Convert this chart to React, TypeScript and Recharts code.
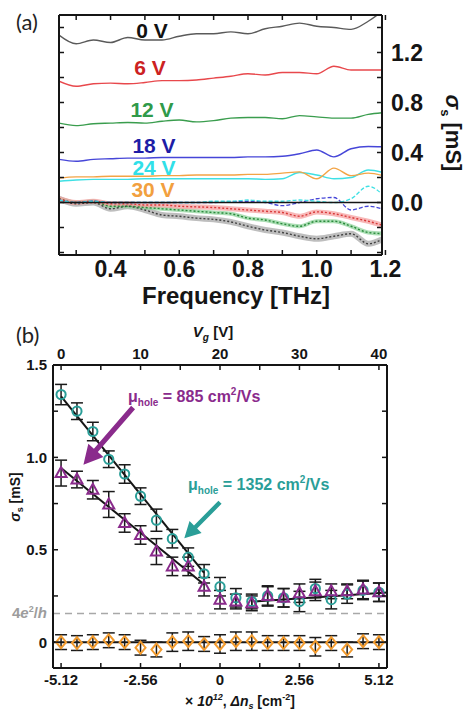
import React from 'react';
import {
  ComposedChart,
  Line,
  Scatter,
  XAxis,
  YAxis,
  ErrorBar,
  ReferenceLine,
} from 'recharts';

const FONT = '"Liberation Sans", Arial, sans-serif';

// ---------- panel (a): sheet conductivity vs frequency ----------
const freq = [0.25, 0.3, 0.35, 0.4, 0.45, 0.5, 0.55, 0.6, 0.65, 0.7, 0.75, 0.8, 0.85, 0.9, 0.95, 1.0, 1.05, 1.1, 1.15, 1.2];
// real part (solid, offset per gate voltage)
const re0V = [1.34, 1.27, 1.3, 1.28, 1.32, 1.3, 1.3, 1.33, 1.35, 1.35, 1.365, 1.35, 1.39, 1.41, 1.435, 1.41, 1.4, 1.385, 1.45, 1.55];
const re6V = [0.97, 0.93, 0.95, 0.955, 0.95, 0.96, 0.975, 0.975, 0.98, 0.995, 1.01, 1.03, 1.02, 1.04, 1.04, 1.03, 1.09, 1.06, 1.06, 1.06];
const re12V = [0.635, 0.615, 0.63, 0.635, 0.64, 0.635, 0.65, 0.66, 0.645, 0.655, 0.675, 0.68, 0.68, 0.67, 0.695, 0.685, 0.675, 0.675, 0.705, 0.72];
const re18V = [0.345, 0.33, 0.345, 0.35, 0.355, 0.355, 0.36, 0.36, 0.36, 0.36, 0.36, 0.365, 0.365, 0.37, 0.39, 0.42, 0.365, 0.43, 0.448, 0.445];
const re24V = [0.17, 0.18, 0.185, 0.185, 0.185, 0.19, 0.19, 0.19, 0.19, 0.19, 0.19, 0.19, 0.185, 0.19, 0.24, 0.22, 0.19, 0.2, 0.26, 0.235];
const re30V = [0.195, 0.205, 0.205, 0.21, 0.21, 0.21, 0.215, 0.215, 0.22, 0.22, 0.22, 0.225, 0.225, 0.235, 0.245, 0.19, 0.275, 0.215, 0.235, 0.21];
// imaginary part (dotted / dashed)
const im0V = [0.03, -0.01, 0.0, -0.05, -0.03, -0.06, -0.1, -0.11, -0.125, -0.135, -0.155, -0.19, -0.22, -0.24, -0.27, -0.29, -0.27, -0.25, -0.33, -0.28];
const im6V = [0.03, 0.0, 0.01, -0.01, -0.01, -0.02, -0.02, -0.03, -0.035, -0.04, -0.05, -0.06, -0.07, -0.08, -0.11, -0.075, -0.09, -0.12, -0.15, -0.19];
const im12V = [0.03, 0.0, 0.01, -0.03, -0.03, -0.04, -0.05, -0.06, -0.07, -0.08, -0.09, -0.125, -0.14, -0.17, -0.19, -0.15, -0.15, -0.19, -0.24, -0.25];
const im18V = [0.02, 0.0, 0.01, 0.0, 0.0, 0.0, 0.0, 0.0, 0.0, 0.0, 0.005, 0.01, 0.0, -0.025, 0.0, 0.03, 0.04, -0.06, -0.03, -0.06];
const im24V = [0.02, 0.0, 0.01, 0.0, 0.0, 0.0, 0.0, 0.0, 0.0, 0.01, 0.01, 0.02, 0.01, 0.01, 0.02, 0.01, 0.0, 0.03, 0.13, 0.04];

const freqTicks = [0.3, 0.4, 0.5, 0.6, 0.7, 0.8, 0.9, 1.0, 1.1, 1.2];
const freqLabels = [0.4, 0.6, 0.8, 1.0, 1.2];
const sigmaTicksA = [-0.4, -0.2, 0, 0.2, 0.4, 0.6, 0.8, 1.0, 1.2, 1.4];
const sigmaLabelsA = [0, 0.4, 0.8, 1.2];

// ---------- panel (b): conductivity vs carrier density ----------
const nPts = [-5.12, -4.608, -4.096, -3.584, -3.072, -2.56, -2.048, -1.536, -1.024, -0.512, 0, 0.512, 1.024, 1.536, 2.048, 2.56, 3.072, 3.584, 4.096, 4.608, 5.12];
const sigTeal = [1.34, 1.25, 1.14, 0.99, 0.91, 0.79, 0.66, 0.56, 0.46, 0.37, 0.3, 0.24, 0.22, 0.25, 0.24, 0.22, 0.29, 0.23, 0.26, 0.28, 0.27];
const errTeal = [0.055, 0.045, 0.05, 0.045, 0.05, 0.045, 0.06, 0.05, 0.05, 0.05, 0.05, 0.05, 0.04, 0.055, 0.05, 0.055, 0.05, 0.05, 0.05, 0.05, 0.05];
const sigPurple = [0.915, 0.88, 0.825, 0.745, 0.645, 0.58, 0.49, 0.41, 0.41, 0.3, 0.23, 0.22, 0.21, 0.25, 0.24, 0.265, 0.275, 0.275, 0.275, 0.285, 0.27];
const errPurple = [0.07, 0.045, 0.05, 0.07, 0.05, 0.05, 0.07, 0.05, 0.05, 0.05, 0.05, 0.04, 0.04, 0.05, 0.05, 0.05, 0.05, 0.04, 0.04, 0.05, 0.05];
const sigOrange = [0.0, -0.005, 0.0, 0.01, 0.0, -0.03, -0.04, 0.0, 0.005, -0.01, -0.01, 0.005, 0.005, -0.005, -0.005, -0.005, -0.025, -0.005, -0.04, 0.005, 0.0];
const errOrange = [0.04, 0.04, 0.04, 0.04, 0.04, 0.04, 0.04, 0.05, 0.05, 0.04, 0.05, 0.05, 0.05, 0.04, 0.04, 0.04, 0.05, 0.04, 0.04, 0.04, 0.04];

// linear fits
const fitTealN = [-5.12, -0.512];
const fitTealV = [1.33, 0.375];
const fitPurpleN = [-5.12, -0.512];
const fitPurpleV = [0.942, 0.312];
const fitFlatN = [1.1, 5.38];
const fitFlatV = [0.22, 0.268];
const quantum = 0.155; // 4e^2/h in mS

// annotation arrows [tail, tip]
const arrowPurple = [{ x: -2.8, y: 1.27 }, { x: -4.4, y: 0.96 }];
const arrowTeal = [{ x: 0, y: 0.757 }, { x: -1.15, y: 0.562 }];

const nTicks = [-5.12, -3.84, -2.56, -1.28, 0, 1.28, 2.56, 3.84, 5.12];
const nLabels = [-5.12, -2.56, 0, 2.56, 5.12];
const vgTicks = [0, 5, 10, 15, 20, 25, 30, 35, 40];
const vgLabels = [0, 10, 20, 30, 40];
const sigmaTicksB = [0, 0.25, 0.5, 0.75, 1.0, 1.25, 1.5];
const sigmaLabelsB = [0, 0.5, 1.0, 1.5];

const TEAL = '#2a9e98';
const PURPLE = '#8a2b8c';
const ORANGE = '#f29b2e';

const tableA = freq.map((f, i) => ({
  f,
  r0: re0V[i],
  r6: re6V[i],
  r12: re12V[i],
  r18: re18V[i],
  r24: re24V[i],
  r30: re30V[i],
  i0: im0V[i],
  i6: im6V[i],
  i12: im12V[i],
  i18: im18V[i],
  i24: im24V[i],
}));

const pts = (vals: number[], errs: number[]) => nPts.map((n, i) => ({ n, v: vals[i], e: errs[i] }));
const line = (ns: number[], vs: number[]) => ns.map((n, i) => ({ n, v: vs[i] }));
// invisible anchor so the secondary (top / right) axes get a domain
const vgAnchor = vgLabels.map((vg) => ({ vg, v: 0 }));

// inward tick marks, labels only where listed
function makeTick(
  side: 'top' | 'bottom' | 'left' | 'right',
  labels: number[],
  fmt: (v: number) => string,
  size: number,
  base: number,
  len = 5
) {
  return (p: any) => {
    const { x, y } = p;
    const v = p.payload.value;
    const has = labels.some((l) => Math.abs(l - v) < 1e-6);
    const tp = { fontSize: size, fontWeight: 700, fill: '#151515', fontFamily: FONT };
    let mark;
    let label = null;
    if (side === 'bottom') {
      mark = <line x1={x} y1={y} x2={x} y2={y - len} />;
      if (has) label = <text x={x} y={y + base} textAnchor="middle" {...tp}>{fmt(v)}</text>;
    } else if (side === 'top') {
      mark = <line x1={x} y1={y} x2={x} y2={y + len} />;
      if (has) label = <text x={x} y={y - base} textAnchor="middle" {...tp}>{fmt(v)}</text>;
    } else if (side === 'left') {
      mark = <line x1={x} y1={y} x2={x + len} y2={y} />;
      if (has) label = <text x={x - base} y={y + size * 0.36} textAnchor="end" {...tp}>{fmt(v)}</text>;
    } else {
      mark = <line x1={x} y1={y} x2={x - len} y2={y} />;
      if (has) label = <text x={x + base} y={y + size * 0.36} textAnchor="start" {...tp}>{fmt(v)}</text>;
    }
    return (
      <g>
        <g stroke="#151515" strokeWidth={1.5}>{mark}</g>
        {label}
      </g>
    );
  };
}

function arrowShape(color: string, head: number, half: number, shaft: number) {
  return (p: any) => {
    const { x1, y1, x2, y2 } = p;
    const dx = x2 - x1;
    const dy = y2 - y1;
    const L = Math.hypot(dx, dy) || 1;
    const ux = dx / L;
    const uy = dy / L;
    const px = -uy;
    const py = ux;
    const bx = x2 - ux * head;
    const by = y2 - uy * head;
    const pt = (a: number, b: number) => `${a},${b}`;
    const points = [
      pt(x1 + px * shaft, y1 + py * shaft),
      pt(bx + px * shaft, by + py * shaft),
      pt(bx + px * half, by + py * half),
      pt(x2, y2),
      pt(bx - px * half, by - py * half),
      pt(bx - px * shaft, by - py * shaft),
      pt(x1 - px * shaft, y1 - py * shaft),
    ].join(' ');
    return <polygon points={points} fill={color} />;
  };
}

const circleShape = (p: any) => (
  <circle cx={p.cx} cy={p.cy} r={4.6} fill="none" stroke={TEAL} strokeWidth={2} />
);
const triangleShape = (p: any) => (
  <polygon
    points={`${p.cx},${p.cy - 6} ${p.cx - 5.5},${p.cy + 4} ${p.cx + 5.5},${p.cy + 4}`}
    fill="none"
    stroke={PURPLE}
    strokeWidth={2}
  />
);
const diamondShape = (p: any) => (
  <polygon
    points={`${p.cx},${p.cy - 6} ${p.cx + 5},${p.cy} ${p.cx},${p.cy + 6} ${p.cx - 5},${p.cy}`}
    fill="none"
    stroke={ORANGE}
    strokeWidth={2}
  />
);

const axisLine = { stroke: '#151515', strokeWidth: 2 };

function PanelA() {
  const realLines = [
    { key: 'r0', color: '#5a5a5a' },
    { key: 'r6', color: '#e8484c' },
    { key: 'r12', color: '#3a9d4e' },
    { key: 'r18', color: '#4646d8' },
    { key: 'r24', color: '#3fe0e4' },
    { key: 'r30', color: '#f3a445' },
  ];
  const bands = [
    { key: 'i0', band: '#a8a8a8', dot: '#404040', w: 6 },
    { key: 'i12', band: '#8fd39b', dot: '#2a8a3c', w: 4 },
    { key: 'i6', band: '#f5a0a0', dot: '#d83a3a', w: 5 },
  ];
  return (
    <ComposedChart
      width={468}
      height={300}
      data={tableA}
      margin={{ top: 10, right: 66, bottom: 25, left: 54 }}
      style={{ fontFamily: FONT }}
    >
      <XAxis
        xAxisId="f"
        dataKey="f"
        type="number"
        domain={[0.25, 1.19]}
        allowDataOverflow
        ticks={freqTicks}
        interval={0}
        height={20}
        tickSize={0}
        tickMargin={0}
        tickLine={false}
        axisLine={axisLine}
        tick={makeTick('bottom', freqLabels, (v) => v.toFixed(1), 23, 22)}
      />
      <XAxis
        xAxisId="ft"
        dataKey="f"
        orientation="top"
        type="number"
        domain={[0.25, 1.19]}
        allowDataOverflow
        ticks={freqTicks}
        interval={0}
        height={5}
        tickSize={0}
        tickMargin={0}
        tickLine={false}
        axisLine={axisLine}
        tick={makeTick('top', [], (v) => String(v), 10, 0)}
      />
      <YAxis
        yAxisId="l"
        type="number"
        domain={[-0.42, 1.5]}
        allowDataOverflow
        ticks={sigmaTicksA}
        interval={0}
        width={5}
        tickSize={0}
        tickMargin={0}
        tickLine={false}
        axisLine={axisLine}
        tick={makeTick('left', [], (v) => String(v), 10, 0)}
      />
      <YAxis
        yAxisId="r"
        orientation="right"
        type="number"
        domain={[-0.42, 1.5]}
        allowDataOverflow
        ticks={sigmaTicksA}
        interval={0}
        width={20}
        tickSize={0}
        tickMargin={0}
        tickLine={false}
        axisLine={axisLine}
        tick={makeTick('right', sigmaLabelsA, (v) => v.toFixed(1), 23, 9)}
      />
      <Line xAxisId="ft" yAxisId="r" dataKey="r0" stroke="none" dot={false} activeDot={false} isAnimationActive={false} />
      {bands.map((b) => (
        <Line
          key={b.key + 'band'}
          xAxisId="f"
          yAxisId="l"
          type="monotone"
          dataKey={b.key}
          stroke={b.band}
          strokeOpacity={0.75}
          strokeWidth={b.w}
          dot={false}
          isAnimationActive={false}
        />
      ))}
      {bands.map((b) => (
        <Line
          key={b.key + 'dot'}
          xAxisId="f"
          yAxisId="l"
          type="monotone"
          dataKey={b.key}
          stroke={b.dot}
          strokeWidth={1.4}
          strokeDasharray="2 2"
          dot={false}
          isAnimationActive={false}
        />
      ))}
      <Line xAxisId="f" yAxisId="l" type="monotone" dataKey="i18" stroke="#4646d8" strokeWidth={1.3} strokeDasharray="4 2" dot={false} isAnimationActive={false} />
      <Line xAxisId="f" yAxisId="l" type="monotone" dataKey="i24" stroke="#3fe0e4" strokeWidth={1.3} strokeDasharray="4 2" dot={false} isAnimationActive={false} />
      <ReferenceLine xAxisId="f" yAxisId="r" y={0} stroke="#151515" strokeWidth={1.6} />
      {realLines.map((l) => (
        <Line
          key={l.key}
          xAxisId="f"
          yAxisId="l"
          type="monotone"
          dataKey={l.key}
          stroke={l.color}
          strokeWidth={1.4}
          dot={false}
          isAnimationActive={false}
        />
      ))}
    </ComposedChart>
  );
}

function PanelB() {
  const fmtN = (v: number) => (v === 0 ? '0' : v.toFixed(2));
  const fmtS = (v: number) => (v === 0 ? '0' : v.toFixed(1));
  return (
    <ComposedChart
      width={468}
      height={413}
      margin={{ top: 45, right: 71, bottom: 25, left: 33 }}
      style={{ fontFamily: FONT }}
    >
      <XAxis
        xAxisId="n"
        dataKey="n"
        type="number"
        domain={[-5.38, 5.38]}
        allowDataOverflow
        ticks={nTicks}
        interval={0}
        height={20}
        tickSize={0}
        tickMargin={0}
        tickLine={false}
        axisLine={axisLine}
        tick={makeTick('bottom', nLabels, fmtN, 15, 17)}
      />
      <XAxis
        xAxisId="vg"
        dataKey="vg"
        orientation="top"
        type="number"
        domain={[-1.016, 41.016]}
        allowDataOverflow
        ticks={vgTicks}
        interval={0}
        height={20}
        tickSize={0}
        tickMargin={0}
        tickLine={false}
        axisLine={axisLine}
        tick={makeTick('top', vgLabels, (v) => String(v), 15, 6)}
      />
      <YAxis
        yAxisId="s"
        type="number"
        domain={[-0.14, 1.5]}
        allowDataOverflow
        ticks={sigmaTicksB}
        interval={0}
        width={20}
        tickSize={0}
        tickMargin={0}
        tickLine={false}
        axisLine={axisLine}
        tick={makeTick('left', sigmaLabelsB, fmtS, 15, 6)}
      />
      <YAxis
        yAxisId="sr"
        orientation="right"
        type="number"
        domain={[-0.14, 1.5]}
        allowDataOverflow
        ticks={sigmaTicksB}
        interval={0}
        width={10}
        tickSize={0}
        tickMargin={0}
        tickLine={false}
        axisLine={axisLine}
        tick={makeTick('right', [], fmtS, 15, 6)}
      />
      <Line xAxisId="vg" yAxisId="sr" data={vgAnchor} dataKey="v" stroke="none" dot={false} activeDot={false} isAnimationActive={false} />
      <ReferenceLine xAxisId="n" yAxisId="s" y={quantum} stroke="#a8a8a8" strokeWidth={1.5} strokeDasharray="7 5" />
      <ReferenceLine xAxisId="n" yAxisId="s" y={0} stroke="#151515" strokeWidth={2} />
      <Line xAxisId="n" yAxisId="s" data={line(fitTealN, fitTealV)} dataKey="v" stroke="#151515" strokeWidth={2} dot={false} isAnimationActive={false} />
      <Line xAxisId="n" yAxisId="s" data={line(fitPurpleN, fitPurpleV)} dataKey="v" stroke="#151515" strokeWidth={2} dot={false} isAnimationActive={false} />
      <Line xAxisId="n" yAxisId="s" data={line(fitFlatN, fitFlatV)} dataKey="v" stroke="#151515" strokeWidth={2} dot={false} isAnimationActive={false} />
      <Scatter xAxisId="n" yAxisId="s" data={pts(sigOrange, errOrange)} dataKey="v" shape={diamondShape} isAnimationActive={false}>
        <ErrorBar dataKey="e" direction="y" width={6} stroke="#1a1a1a" strokeWidth={1.5} isAnimationActive={false} />
      </Scatter>
      <Scatter xAxisId="n" yAxisId="s" data={pts(sigTeal, errTeal)} dataKey="v" shape={circleShape} isAnimationActive={false}>
        <ErrorBar dataKey="e" direction="y" width={6} stroke="#1a1a1a" strokeWidth={1.5} isAnimationActive={false} />
      </Scatter>
      <Scatter xAxisId="n" yAxisId="s" data={pts(sigPurple, errPurple)} dataKey="v" shape={triangleShape} isAnimationActive={false}>
        <ErrorBar dataKey="e" direction="y" width={6} stroke="#1a1a1a" strokeWidth={1.5} isAnimationActive={false} />
      </Scatter>
      <ReferenceLine
        xAxisId="n"
        yAxisId="s"
        segment={arrowPurple}
        ifOverflow="visible"
        shape={arrowShape(PURPLE, 19, 10, 2.6)}
      />
      <ReferenceLine
        xAxisId="n"
        yAxisId="s"
        segment={arrowTeal}
        ifOverflow="visible"
        shape={arrowShape(TEAL, 16, 8.5, 2.2)}
      />
    </ComposedChart>
  );
}

const labelA = [
  { text: '0 V', color: '#111111', x: 152, y: 38 },
  { text: '6 V', color: '#cc2222', x: 150, y: 75 },
  { text: '12 V', color: '#2f9a4a', x: 152, y: 117 },
  { text: '18 V', color: '#1d1da6', x: 154, y: 153 },
  { text: '24 V', color: '#30e0e8', x: 154, y: 175 },
  { text: '30 V', color: '#f2a03e', x: 153, y: 197 },
];

function Overlay() {
  const bold = { fontFamily: FONT, fontWeight: 700 };
  return (
    <svg
      width={468}
      height={713}
      style={{ position: 'absolute', left: 0, top: 0, pointerEvents: 'none' }}
    >
      <text x={16} y={30} fontFamily="Lato, sans-serif" fontSize={22} fill="#222">(a)</text>
      {labelA.map((l) => (
        <text key={l.text} x={l.x} y={l.y} textAnchor="middle" fontSize={21} fill={l.color} {...bold}>
          {l.text}
        </text>
      ))}
      <text x={236} y={304} textAnchor="middle" fontSize={24} fill="#151515" {...bold}>
        Frequency [THz]
      </text>
      <text
        x={0}
        y={0}
        transform="translate(446,133) rotate(90)"
        textAnchor="middle"
        fontSize={22}
        fill="#151515"
        {...bold}
      >
        <tspan fontStyle="italic">σ</tspan>
        <tspan fontSize={13} dy={5}>s</tspan>
        <tspan dy={-5}> [mS]</tspan>
      </text>

      <text x={16} y={343} fontFamily="Lato, sans-serif" fontSize={22} fill="#222">(b)</text>
      <text x={213} y={337} textAnchor="middle" fontSize={15} fill="#151515" {...bold}>
        <tspan fontStyle="italic">V</tspan>
        <tspan fontSize={10} dy={4} fontStyle="italic">g</tspan>
        <tspan dy={-4}> [V]</tspan>
      </text>
      <text
        x={0}
        y={0}
        transform="translate(20,497) rotate(-90)"
        textAnchor="middle"
        fontSize={14}
        fill="#151515"
        {...bold}
      >
        <tspan fontStyle="italic">σ</tspan>
        <tspan fontSize={9} dy={3}>s</tspan>
        <tspan dy={-3}> [mS]</tspan>
      </text>
      <text x={47} y={618} textAnchor="end" fontSize={15} fill="#9c9c9c" {...bold}>
        4<tspan fontStyle="italic">e</tspan>
        <tspan fontSize={9} dy={-6}>2</tspan>
        <tspan dy={6}>/</tspan>
        <tspan fontStyle="italic">h</tspan>
      </text>
      <text x={240} y={706} textAnchor="middle" fontSize={14} fill="#151515" {...bold}>
        × <tspan fontStyle="italic">10</tspan>
        <tspan fontSize={9} dy={-6} fontStyle="italic">12</tspan>
        <tspan dy={6}>, </tspan>
        <tspan fontStyle="italic">Δn</tspan>
        <tspan fontSize={9} dy={3} fontStyle="italic">s</tspan>
        <tspan dy={-3}> [cm</tspan>
        <tspan fontSize={9} dy={-6}>-2</tspan>
        <tspan dy={6}>]</tspan>
      </text>
      <text x={128} y={402} fontSize={16} fill={PURPLE} {...bold}>
        μ<tspan fontSize={10} dy={4}>hole</tspan>
        <tspan dy={-4}> = 885 cm</tspan>
        <tspan fontSize={10} dy={-7}>2</tspan>
        <tspan dy={7}>/Vs</tspan>
      </text>
      <text x={188} y={490} fontSize={16} fill={TEAL} {...bold}>
        μ<tspan fontSize={10} dy={4}>hole</tspan>
        <tspan dy={-4}> = 1352 cm</tspan>
        <tspan fontSize={10} dy={-7}>2</tspan>
        <tspan dy={7}>/Vs</tspan>
      </text>
    </svg>
  );
}

export default function App() {
  return (
    <div style={{ position: 'absolute', left: 0, top: 0, width: 468, height: 713, background: '#fff', overflow: 'hidden' }}>
      <div style={{ position: 'absolute', left: 0, top: 0 }}>
        <PanelA />
      </div>
      <div style={{ position: 'absolute', left: 0, top: 300 }}>
        <PanelB />
      </div>
      <Overlay />
    </div>
  );
}
